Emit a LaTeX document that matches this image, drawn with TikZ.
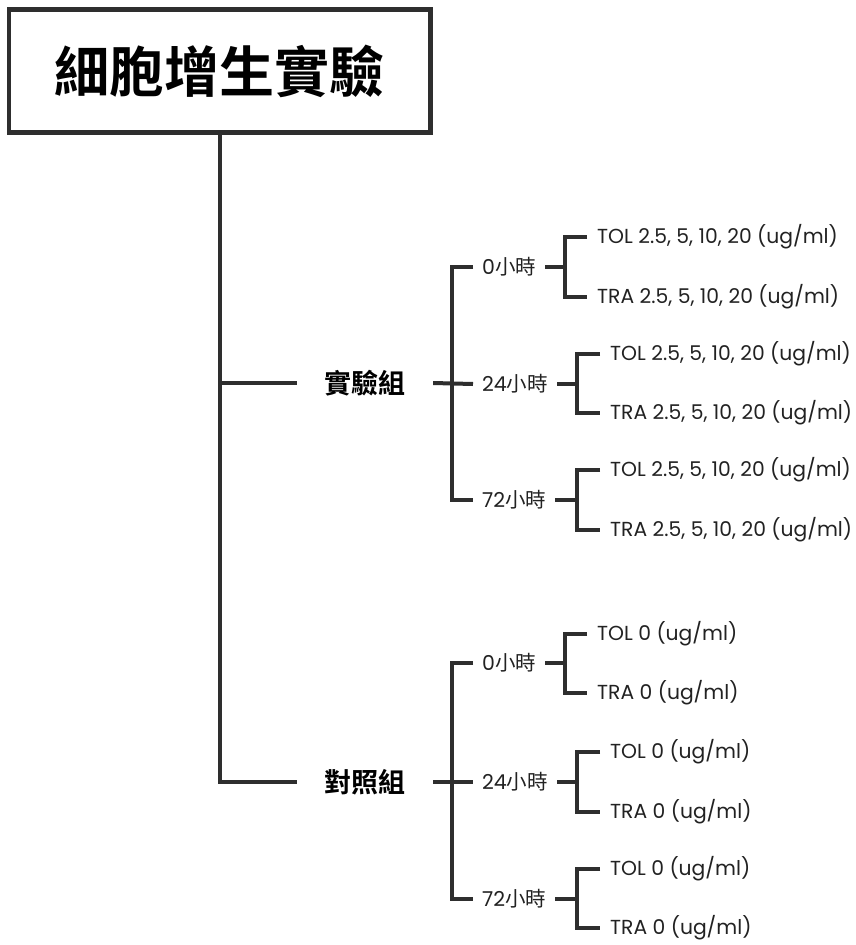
\documentclass[tikz,border=0pt]{standalone}
\usepackage{fontspec}
\setmainfont{Poppins}
\newfontfamily\cjk{Noto Sans CJK TC}
\newfontfamily\cjkb{Noto Sans CJK TC Bold}
\definecolor{ln}{HTML}{2E2E2E}
\definecolor{tx}{HTML}{222222}
\begin{document}
\begin{tikzpicture}[x=1pt,y=-1pt,
  conn/.style={draw=ln,line width=4pt},
  thin/.style={draw=ln,line width=3.5pt},
  titlebox/.style={draw=ln,line width=4.5pt,minimum width=421.5pt,minimum height=123pt,inner sep=0pt,font=\cjkb\fontsize{55}{60}\selectfont,text=black},
  grp/.style={minimum width=136pt,inner sep=0pt,font=\cjkb\fontsize{27}{30}\selectfont,text=black},
  hour/.style={anchor=west,inner xsep=9pt,inner ysep=0pt,font=\fontsize{20.5}{24}\selectfont,text=tx},
  leaf/.style={anchor=west,inner xsep=10pt,inner ysep=0pt,font=\fontsize{20.3}{24}\selectfont,text=tx}]
\useasboundingbox (0,0) rectangle (856,945);
\fill[white] (0,0) rectangle (856,945);

\node[titlebox] (title) at (219.5,71) {細胞增生實驗};

\node[grp] (grpE) at (365,383) {實驗組};
\node[grp] (grpC) at (365,782) {對照組};

\draw[conn] (title.south) -- (title.south |- grpC.west) -- (grpC.west);
\draw[conn] (title.south |- grpE.west) -- (grpE.west);

% hour labels
\node[hour] (h0E) at (473,267) {0{\cjk 小時}};
\node[hour] (h24E) at (473,384) {24{\cjk 小時}};
\node[hour] (h72E) at (473,500) {72{\cjk 小時}};
\node[hour] (h0C) at (473,663) {0{\cjk 小時}};
\node[hour] (h24C) at (473,782) {24{\cjk 小時}};
\node[hour] (h72C) at (473,899) {72{\cjk 小時}};

\coordinate (bxE) at (452,384);
\coordinate (bxC) at (452,782);
\draw[conn] (grpE.east) -- (h24E.west);
\draw[conn] (h0E.west) -| (bxE) |- (h72E.west);
\draw[conn] (grpC.east) -- (h24C.west);
\draw[conn] (h0C.west) -| (bxC) |- (h72C.west);

% leaves experimental
\node[leaf] (l0Ea) at (587,237) {TOL 2.5, 5, 10, 20 (ug/ml)};
\node[leaf] (l0Eb) at (587,297) {TRA 2.5, 5, 10, 20 (ug/ml)};
\node[leaf] (l24Ea) at (600,354) {TOL 2.5, 5, 10, 20 (ug/ml)};
\node[leaf] (l24Eb) at (600,413) {TRA 2.5, 5, 10, 20 (ug/ml)};
\node[leaf] (l72Ea) at (600,470) {TOL 2.5, 5, 10, 20 (ug/ml)};
\node[leaf] (l72Eb) at (600,530) {TRA 2.5, 5, 10, 20 (ug/ml)};
% leaves control
\node[leaf] (l0Ca) at (587,634) {TOL 0 (ug/ml)};
\node[leaf] (l0Cb) at (587,693) {TRA 0 (ug/ml)};
\node[leaf] (l24Ca) at (600,752) {TOL 0 (ug/ml)};
\node[leaf] (l24Cb) at (600,812) {TRA 0 (ug/ml)};
\node[leaf] (l72Ca) at (600,869) {TOL 0 (ug/ml)};
\node[leaf] (l72Cb) at (600,928) {TRA 0 (ug/ml)};

\coordinate (b0E) at (565,267);
\coordinate (b24E) at (577,384);
\coordinate (b72E) at (577,500);
\coordinate (b0C) at (565,663);
\coordinate (b24C) at (577,782);
\coordinate (b72C) at (577,899);

\foreach \h/\c/\a/\b in {h0E/b0E/l0Ea/l0Eb, h24E/b24E/l24Ea/l24Eb, h72E/b72E/l72Ea/l72Eb,
                      h0C/b0C/l0Ca/l0Cb, h24C/b24C/l24Ca/l24Cb, h72C/b72C/l72Ca/l72Cb}{
  \draw[thin] (\h.east) -- (\c);
  \draw[thin] (\a.west) -| (\c) |- (\b.west);
}
\end{tikzpicture}
\end{document}
